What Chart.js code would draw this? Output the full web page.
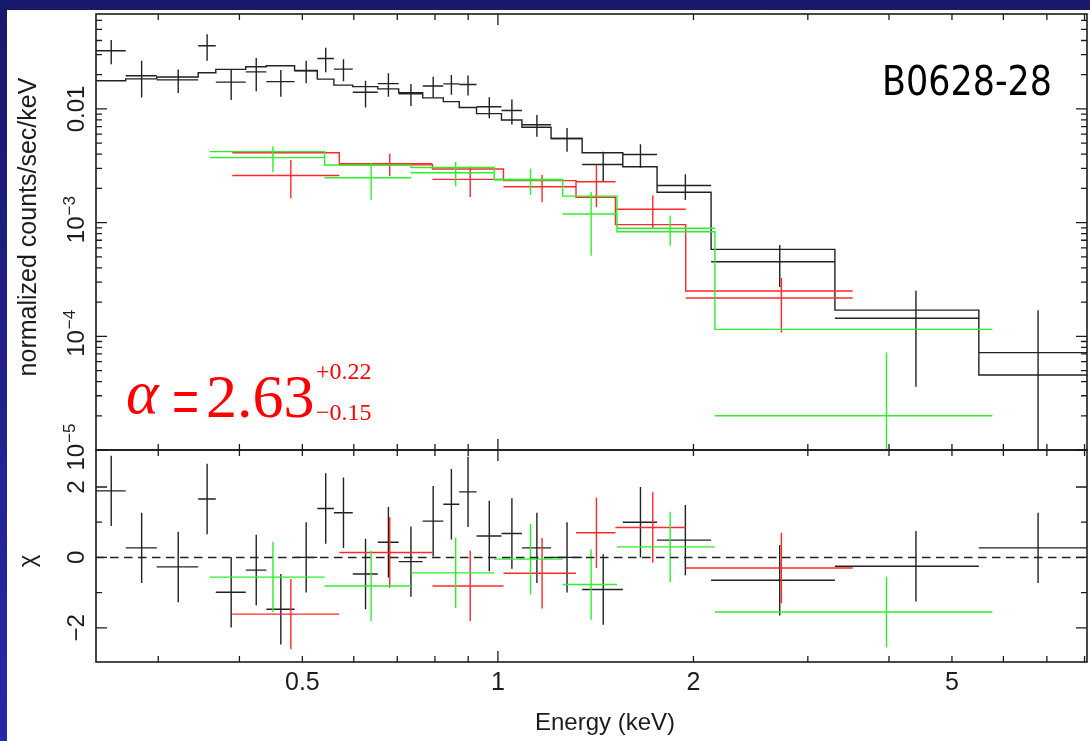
<!DOCTYPE html>
<html>
<head>
<meta charset="utf-8">
<script src="https://cdn.jsdelivr.net/npm/chart.js@4.4.1/dist/chart.umd.min.js"></script>
<style>
  html, body { margin: 0; padding: 0; }
  body { width: 1090px; height: 741px; overflow: hidden; position: relative;
         background: linear-gradient(to bottom, #19196a, #2828a8); }
  #paper { position: absolute; left: 7px; top: 10px; right: 0; bottom: 0; background: #fff; }
  canvas { position: absolute; left: 0; top: 0; }
</style>
</head>
<body>
<div id="paper"></div>
<canvas id="spec" width="1090" height="741"></canvas>
<canvas id="resid" width="1090" height="741"></canvas>
<script>
// axis ranges
const xMin = 0.2406, xMax = 8.07;
const yMin = 1e-5, yMax = 0.0684;
const chiMin = -2.97, chiMax = 3.05;

// tick values / labels
const xTickValues = [0.5, 1, 2, 5];
const xTickLabels = ['0.5', '1', '2', '5'];
const xMinorTicks = [0.3, 0.4, 0.5, 0.6, 0.7, 0.8, 0.9, 2, 3, 4, 5, 6, 7, 8];
const xMajorTicks = [1];
const yTickValues = [0.01, 1e-3, 1e-4, 1e-5];
const yTickLabels = ['0.01', ['10', '\u22123'], ['10', '\u22124'], ['10', '\u22125']];
const chiTickValues = [2, 0, -2];
const chiTickLabels = ['2', '0', '\u22122'];
const chiMinorTicks = [-1, 1];

// black spectrum (bin edges in keV, counts/sec/keV, model, chi)
const blackEdges = [0.2406, 0.2673, 0.2984, 0.3456, 0.3679, 0.4091, 0.4401, 0.4864, 0.5272, 0.5591,
  0.5978, 0.6532, 0.7035, 0.766, 0.824, 0.872, 0.9271, 1.0128, 1.0889, 1.2074, 1.348, 1.557,
  1.758, 2.129, 3.302, 5.5, 8.07];
const blackRate = [0.0325, 0.0196, 0.018, 0.036, 0.0172, 0.0212, 0.0174, 0.0217, 0.0278, 0.0224,
  0.014, 0.0167, 0.0136, 0.0159, 0.0166, 0.0164, 0.01046, 0.0097, 0.00727, 0.0055, 0.00325,
  0.00397, 0.00212, 0.000453, 0.000144, 0.0000718];
const blackErr = [0.0078, 0.007, 0.0042, 0.0094, 0.0052, 0.0069, 0.0046, 0.0049, 0.0068, 0.0049,
  0.0037, 0.0039, 0.003, 0.0033, 0.0033, 0.0033, 0.0022, 0.0024, 0.00157, 0.0013, 0.00096,
  0.00093, 0.00054, 0.000181, 0.000108, 0.000098];
const blackModel = [0.0177, 0.0184, 0.0191, 0.0208, 0.0223, 0.0235, 0.024, 0.0218, 0.0183, 0.0162,
  0.0157, 0.015, 0.0139, 0.0125, 0.0116, 0.0103, 0.0091, 0.008, 0.0069, 0.0055, 0.00412,
  0.0031, 0.00185, 0.000582, 0.00017, 0.0000457];
const blackChi = [1.89, 0.27, -0.27, 1.66, -0.99, -0.36, -1.47, 0, 1.39, 1.27, -0.47, 0.43, -0.12,
  1.03, 1.51, 1.86, 0.61, 0.68, 0.27, 0, -0.91, 1.0, 0.49, -0.65, -0.25, 0.27];

// red spectrum
const redEdges = [0.39, 0.57, 0.793, 1.02, 1.319, 1.517, 1.946, 3.517];
const redRate = [0.0026, 0.0033, 0.0024, 0.00207, 0.00229, 0.00131, 0.000217];
const redErr = [0.00096, 0.00074, 0.00072, 0.00056, 0.00092, 0.00043, 0.000109];
const redModel = [0.00412, 0.00322, 0.00296, 0.00234, 0.00167, 0.00096, 0.00025];
const redChi = [-1.61, 0.14, -0.81, -0.45, 0.7, 0.85, -0.3];

// green spectrum
const greenEdges = [0.36, 0.541, 0.735, 0.987, 1.258, 1.525, 2.158, 5.771];
const greenRate = [0.00373, 0.00248, 0.00275, 0.00237, 0.00119, 0.000891, 0.00002];
const greenErr = [0.00095, 0.00089, 0.00066, 0.00062, 0.00068, 0.000266, 0.000052];
const greenModel = [0.00421, 0.00321, 0.00305, 0.0024, 0.00171, 0.000832, 0.000115];
const greenChi = [-0.56, -0.81, -0.44, -0.05, -0.77, 0.3, -1.55];

const chiErr = 1;
const ink = '#1c1c1c';
const black = '#222222', red = '#ff2a2a', green = '#2bef2b';
const sans = '"Liberation Sans", Arial, sans-serif';
const serif = '"Liberation Serif", "Times New Roman", serif';

// error crosses as line pieces split by gaps
function crosses(edges, val, err, floor) {
  const pts = [];
  val.forEach((v, i) => {
    const lo = edges[i], hi = edges[i + 1], mid = (lo + hi) / 2;
    const bottom = v - err[i] > floor ? v - err[i] : floor;
    pts.push({ x: lo, y: v }, { x: hi, y: v }, { x: mid, y: null });
    pts.push({ x: mid, y: bottom }, { x: mid, y: v + err[i] }, { x: mid, y: null });
  });
  return pts;
}
function chiCrosses(edges, chi) {
  return crosses(edges, chi, chi.map(() => chiErr), -100);
}
function steps(edges, model) {
  const pts = [];
  model.forEach((m, i) => pts.push({ x: edges[i], y: m }, { x: edges[i + 1], y: m }));
  return pts;
}
function ds(data, color, extra) {
  return Object.assign({ data, borderColor: color, borderWidth: 1.4, showLine: true,
    pointRadius: 0, spanGaps: false, clip: 0 }, extra || {});
}

function drawFrame(ctx, a, x, y, yMinor, yMajor) {
  ctx.save();
  ctx.strokeStyle = ink;
  ctx.lineWidth = 1.3;
  ctx.beginPath();
  const xt = xMinorTicks.map(v => [v, 6]).concat(xMajorTicks.map(v => [v, 11]));
  xt.forEach(([v, len]) => {
    const px = x.getPixelForValue(v);
    ctx.moveTo(px, a.top); ctx.lineTo(px, a.top + len);
    ctx.moveTo(px, a.bottom); ctx.lineTo(px, a.bottom - len);
  });
  const yt = yMinor.map(v => [v, 6]).concat(yMajor.map(v => [v, 11]));
  yt.forEach(([v, len]) => {
    const py = y.getPixelForValue(v);
    ctx.moveTo(a.left, py); ctx.lineTo(a.left + len, py);
    ctx.moveTo(a.right, py); ctx.lineTo(a.right - len, py);
  });
  ctx.stroke();
  ctx.lineWidth = 1.6;
  ctx.strokeRect(a.left, a.top, a.right - a.left, a.bottom - a.top);
  ctx.restore();
}

// rotated text, reading bottom to top, baseline at screen x
function vText(ctx, str, bx, cy, font, shift) {
  ctx.save();
  ctx.translate(bx, cy);
  ctx.rotate(-Math.PI / 2);
  ctx.font = font;
  ctx.textAlign = 'center';
  ctx.fillText(str, shift || 0, 0);
  ctx.restore();
}
function vPow(ctx, base, exp, bx, cy) {
  ctx.save();
  ctx.translate(bx, cy);
  ctx.rotate(-Math.PI / 2);
  ctx.textAlign = 'left';
  ctx.font = '24px ' + sans;
  const wb = ctx.measureText(base).width;
  ctx.font = '17px ' + sans;
  const we = ctx.measureText(exp).width;
  const start = -(wb + we + 1) / 2 + 3;
  ctx.font = '24px ' + sans;
  ctx.fillText(base, start, 0);
  ctx.font = '17px ' + sans;
  ctx.fillText(exp, start + wb + 1, -9);
  ctx.restore();
}

const topMinorY = [];
for (let e = -5; e <= -2; e++) {
  for (let k = 2; k <= 9; k++) {
    const v = k * Math.pow(10, e);
    if (v < yMax) topMinorY.push(v);
  }
}

const specPlugin = {
  id: 'specFrame',
  afterDatasetsDraw(chart) {
    const { ctx, chartArea: a, scales: { x, y } } = chart;
    drawFrame(ctx, a, x, y, topMinorY, yTickValues);
    ctx.save();
    ctx.fillStyle = ink;
    yTickValues.forEach((v, i) => {
      const py = y.getPixelForValue(v);
      const lab = yTickLabels[i];
      if (Array.isArray(lab)) vPow(ctx, lab[0], lab[1], 84, py);
      else vText(ctx, lab, 84, py, '24px ' + sans);
    });
    vText(ctx, 'normalized counts/sec/keV', 36, 227, '25px ' + sans);

    // source name
    ctx.fillStyle = '#000';
    ctx.font = '40px "DejaVu Sans", sans-serif';
    ctx.textAlign = 'left';
    ctx.fillText('B0628-28', 882, 95, 170);

    // spectral index annotation
    ctx.fillStyle = '#ff0000';
    ctx.font = 'italic 62px ' + serif;
    ctx.fillText('\u03b1', 126, 413);
    ctx.save();
    ctx.translate(172, 429);
    ctx.scale(1.2, 2.0);
    ctx.font = '40px ' + serif;
    ctx.fillText('=', 0, 0);
    ctx.restore();
    ctx.font = '62px ' + serif;
    ctx.fillText('2.63', 206, 417);
    ctx.font = '24px ' + serif;
    ctx.fillText('+0.22', 316, 379);
    ctx.fillText('\u22120.15', 316, 420);
    ctx.restore();
  }
};

const residPlugin = {
  id: 'residFrame',
  afterDatasetsDraw(chart) {
    const { ctx, chartArea: a, scales: { x, y } } = chart;
    drawFrame(ctx, a, x, y, chiMinorTicks, chiTickValues);
    ctx.save();
    ctx.fillStyle = ink;
    chiTickValues.forEach((v, i) => {
      vText(ctx, chiTickLabels[i], 84, y.getPixelForValue(v), '24px ' + sans);
    });
    vText(ctx, '\u03c7', 35, 561, '24px ' + sans);
    ctx.font = '25px ' + sans;
    ctx.textAlign = 'center';
    xTickValues.forEach((v, i) => {
      ctx.fillText(xTickLabels[i], x.getPixelForValue(v), 690);
    });
    ctx.font = '24px ' + sans;
    ctx.fillText('Energy (keV)', 605, 730);
    ctx.restore();
  }
};

const common = {
  responsive: false,
  animation: false,
  devicePixelRatio: 1,
  events: [],
  plugins: { legend: { display: false }, tooltip: { enabled: false } },
};

new Chart(document.getElementById('spec'), {
  type: 'scatter',
  data: {
    datasets: [
      ds(steps(greenEdges, greenModel), green),
      ds(crosses(greenEdges, greenRate, greenErr, yMin), green),
      ds(steps(redEdges, redModel), red),
      ds(crosses(redEdges, redRate, redErr, yMin), red),
      ds(steps(blackEdges, blackModel), black),
      ds(crosses(blackEdges, blackRate, blackErr, yMin), black),
    ],
  },
  options: Object.assign({}, common, {
    layout: { padding: { left: 96, top: 14, right: 3, bottom: 291 } },
    scales: {
      x: { type: 'logarithmic', min: xMin, max: xMax, display: false },
      y: { type: 'logarithmic', min: yMin, max: yMax, display: false },
    },
  }),
  plugins: [specPlugin],
});

new Chart(document.getElementById('resid'), {
  type: 'scatter',
  data: {
    datasets: [
      ds([{ x: xMin, y: 0 }, { x: xMax, y: 0 }], black, { borderDash: [8.5, 5.5], borderWidth: 1.5 }),
      ds(chiCrosses(greenEdges, greenChi), green),
      ds(chiCrosses(redEdges, redChi), red),
      ds(chiCrosses(blackEdges, blackChi), black),
    ],
  },
  options: Object.assign({}, common, {
    layout: { padding: { left: 96, top: 450, right: 3, bottom: 79 } },
    scales: {
      x: { type: 'logarithmic', min: xMin, max: xMax, display: false },
      y: { type: 'linear', min: chiMin, max: chiMax, display: false },
    },
  }),
  plugins: [residPlugin],
});
</script>
</body>
</html>
